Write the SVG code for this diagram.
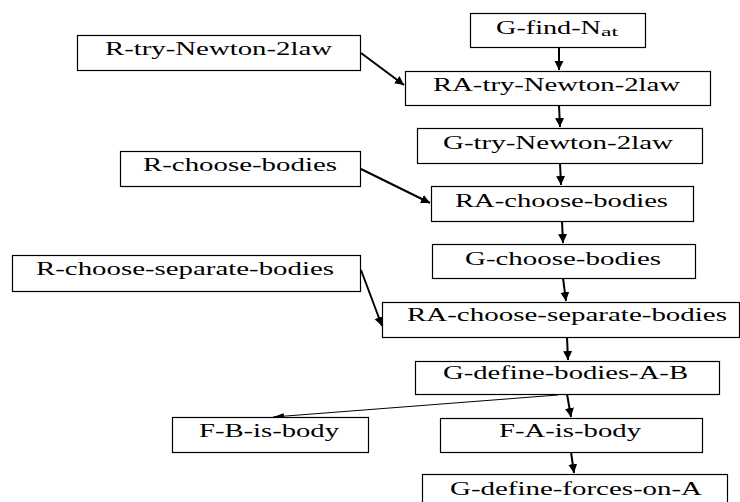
<svg xmlns="http://www.w3.org/2000/svg" width="740" height="502" viewBox="0 0 740 502">
  <style>
    .box { fill: #ffffff; stroke: #000000; stroke-width: 1.2; }
    .lbl { font-family: "Liberation Serif", "Times New Roman", serif; font-size: 18px; fill: #000000; }
    .sub { font-family: "Liberation Serif", "Times New Roman", serif; font-size: 13px; fill: #000000; }
    .edge { fill: none; stroke: #000000; stroke-width: 2; marker-end: url(#head); }
    .edge-thin { fill: none; stroke: #000000; stroke-width: 1; marker-end: url(#head-thin); }
  </style>
  <defs>
    <marker id="head" markerUnits="userSpaceOnUse" markerWidth="10" markerHeight="10" refX="9" refY="5" orient="auto">
      <path d="M0,0.5 L9,5 L0,9.5 z" fill="#000000"/>
    </marker>
    <marker id="head-thin" markerUnits="userSpaceOnUse" markerWidth="12" markerHeight="8" refX="11" refY="4" orient="auto">
      <path d="M0,1 L11,4 L0,7 z" fill="#000000"/>
    </marker>
  </defs>
  <rect width="740" height="502" fill="#ffffff"/>

  <g id="connectors">
    <line class="edge" x1="559" y1="47" x2="559" y2="70"/>
    <line class="edge" x1="361" y1="53" x2="404" y2="85"/>
    <line class="edge" x1="559" y1="105" x2="560" y2="127"/>
    <line class="edge" x1="560" y1="163" x2="561" y2="185"/>
    <line class="edge" x1="361" y1="169" x2="430" y2="203"/>
    <line class="edge" x1="562" y1="221" x2="563" y2="243"/>
    <line class="edge" x1="563" y1="278" x2="566" y2="301"/>
    <line class="edge" x1="361" y1="270" x2="382" y2="326"/>
    <line class="edge" x1="567" y1="337" x2="568" y2="360"/>
    <line class="edge" x1="567" y1="394" x2="571" y2="417"/>
    <line class="edge-thin" x1="558" y1="395" x2="273" y2="417"/>
    <line class="edge" x1="571" y1="452" x2="574" y2="473"/>
  </g>

  <g id="g-find-nat">
    <rect class="box" x="470.5" y="13.5" width="175" height="34"/>
    <text class="lbl" x="496" y="34" textLength="105" lengthAdjust="spacingAndGlyphs">G-find-N</text>
    <text class="sub" x="601" y="35.5" textLength="17" lengthAdjust="spacingAndGlyphs">at</text>
  </g>
  <g id="r-try-newton-2law">
    <rect class="box" x="77.5" y="35.5" width="283" height="35"/>
    <text class="lbl" x="105" y="55" textLength="227" lengthAdjust="spacingAndGlyphs">R-try-Newton-2law</text>
  </g>
  <g id="ra-try-newton-2law">
    <rect class="box" x="405.5" y="71.5" width="305" height="34"/>
    <text class="lbl" x="433" y="91" textLength="247" lengthAdjust="spacingAndGlyphs">RA-try-Newton-2law</text>
  </g>
  <g id="g-try-newton-2law">
    <rect class="box" x="417.5" y="128.5" width="285" height="35"/>
    <text class="lbl" x="443" y="148.5" textLength="230" lengthAdjust="spacingAndGlyphs">G-try-Newton-2law</text>
  </g>
  <g id="r-choose-bodies">
    <rect class="box" x="120.5" y="151.5" width="240" height="35"/>
    <text class="lbl" x="143" y="171" textLength="194" lengthAdjust="spacingAndGlyphs">R-choose-bodies</text>
  </g>
  <g id="ra-choose-bodies">
    <rect class="box" x="431.5" y="186.5" width="262" height="35"/>
    <text class="lbl" x="455" y="206.5" textLength="213" lengthAdjust="spacingAndGlyphs">RA-choose-bodies</text>
  </g>
  <g id="g-choose-bodies">
    <rect class="box" x="432.5" y="244.5" width="263" height="34"/>
    <text class="lbl" x="465" y="265" textLength="196" lengthAdjust="spacingAndGlyphs">G-choose-bodies</text>
  </g>
  <g id="r-choose-separate-bodies">
    <rect class="box" x="12.5" y="255.5" width="348" height="36"/>
    <text class="lbl" x="36" y="275" textLength="298" lengthAdjust="spacingAndGlyphs">R-choose-separate-bodies</text>
  </g>
  <g id="ra-choose-separate-bodies">
    <rect class="box" x="382.5" y="302.5" width="357" height="35"/>
    <text class="lbl" x="407" y="321" textLength="320" lengthAdjust="spacingAndGlyphs">RA-choose-separate-bodies</text>
  </g>
  <g id="g-define-bodies-a-b">
    <rect class="box" x="415.5" y="361.5" width="304" height="33"/>
    <text class="lbl" x="443" y="379" textLength="245" lengthAdjust="spacingAndGlyphs">G-define-bodies-A-B</text>
  </g>
  <g id="f-b-is-body">
    <rect class="box" x="172.5" y="417.5" width="196" height="35"/>
    <text class="lbl" x="199" y="437" textLength="140" lengthAdjust="spacingAndGlyphs">F-B-is-body</text>
  </g>
  <g id="f-a-is-body">
    <rect class="box" x="440.5" y="418.5" width="262" height="34"/>
    <text class="lbl" x="499" y="437" textLength="142" lengthAdjust="spacingAndGlyphs">F-A-is-body</text>
  </g>
  <g id="g-define-forces-on-a">
    <rect class="box" x="422.5" y="474.5" width="305" height="35"/>
    <text class="lbl" x="450" y="495" textLength="252" lengthAdjust="spacingAndGlyphs">G-define-forces-on-A</text>
  </g>
</svg>
